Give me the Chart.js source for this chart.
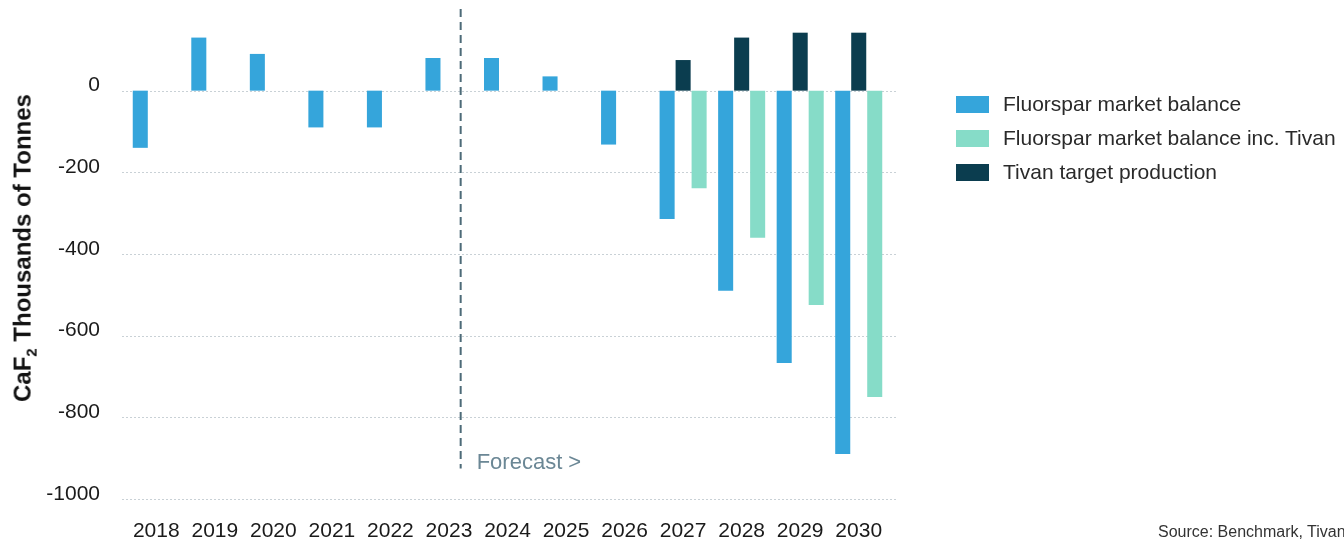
<!DOCTYPE html>
<html>
<head>
<meta charset="utf-8">
<script src="https://cdn.jsdelivr.net/npm/chart.js@4"></script>
<style>
  body { margin: 0; background: #fff; overflow: hidden; font-family: "Liberation Sans", Arial, sans-serif; }
  #wrap { position: relative; width: 1344px; height: 542px; overflow: hidden; }
  #yTitle {
    position: absolute; left: 24px; top: 248px;
    transform: translate(-50%, -50%) rotate(-90deg);
    white-space: nowrap; font-size: 24px; font-weight: bold; color: #111;
  }
  #yTitle sub { font-size: 15px; }
  .leg { position: absolute; left: 956px; height: 34px; display: flex; align-items: center; white-space: nowrap; font-size: 21px; color: #2a2a2a; }
  .leg span.box { display: inline-block; width: 33px; height: 17px; margin-right: 14px; }
  #source { position: absolute; left: 1158px; top: 523px; font-size: 16px; color: #333; white-space: nowrap; }
</style>
</head>
<body>
<div id="wrap">
  <canvas id="chart" width="1344" height="542"></canvas>
  <div id="yTitle">CaF<sub>2</sub> Thousands of Tonnes</div>
  <div id="legend"></div>
  <div id="source">Source: Benchmark, Tivan</div>
</div>
<script>
const years = ["2018", "2019", "2020", "2021", "2022", "2023", "2024", "2025", "2026", "2027", "2028", "2029", "2030"];
const marketBalance = [-140, 130, 90, -90, -90, 80, 80, 35, -132, -314, -490, -667, -890];
const tivanProduction = [null, null, null, null, null, null, null, null, null, 75, 130, 142, 142];
const balanceIncTivan = [null, null, null, null, null, null, null, null, null, -239, -360, -525, -750];
const yTicks = [0, -200, -400, -600, -800, -1000];

const colorBlue = "#35a5db";
const colorGreen = "#86dcc8";
const colorDark = "#0b3d4f";

const forecastIndex = 5.2;    // forecast divider, just after 2023
const forecastLineEnd = -925; // where the dashed line stops

// legend (order differs from draw order)
const legendItems = [
  ["Fluorspar market balance", colorBlue],
  ["Fluorspar market balance inc. Tivan", colorGreen],
  ["Tivan target production", colorDark]
];
const legendEl = document.getElementById("legend");
legendItems.forEach(function (it, i) {
  const d = document.createElement("div");
  d.className = "leg";
  d.style.top = (87 + i * 34) + "px";
  d.innerHTML = '<span class="box" style="background:' + it[1] + '"></span>' + it[0];
  legendEl.appendChild(d);
});

const gridAndForecast = {
  id: "gridAndForecast",
  beforeDatasetsDraw(chart) {
    const ctx = chart.ctx;
    const area = chart.chartArea;
    const y = chart.scales.y;
    const x = chart.scales.x;
    ctx.save();
    ctx.strokeStyle = "#c9d1d6";
    ctx.lineWidth = 1;
    ctx.setLineDash([2, 2]);
    yTicks.forEach(function (v) {
      const py = Math.round(y.getPixelForValue(v)) + 0.5;
      ctx.beginPath();
      ctx.moveTo(area.left - 5, py);
      ctx.lineTo(area.right + 9, py);
      ctx.stroke();
    });
    // forecast divider
    const fx = x.getPixelForValue(forecastIndex);
    ctx.strokeStyle = "#4d6b78";
    ctx.lineWidth = 2;
    ctx.setLineDash([8, 5]);
    ctx.beginPath();
    ctx.moveTo(fx, area.top);
    ctx.lineTo(fx, y.getPixelForValue(forecastLineEnd));
    ctx.stroke();
    ctx.setLineDash([]);
    ctx.fillStyle = "#6b8795";
    ctx.font = "22px 'Liberation Sans', Arial, sans-serif";
    ctx.textBaseline = "middle";
    ctx.fillText("Forecast >", fx + 16, y.getPixelForValue(-912));
    ctx.restore();
  }
};

new Chart(document.getElementById("chart"), {
  type: "bar",
  data: {
    labels: years,
    datasets: [
      { label: "Fluorspar market balance", data: marketBalance, backgroundColor: colorBlue },
      { label: "Tivan target production", data: tivanProduction, backgroundColor: colorDark },
      { label: "Fluorspar market balance inc. Tivan", data: balanceIncTivan, backgroundColor: colorGreen }
    ]
  },
  options: {
    responsive: false,
    animation: false,
    categoryPercentage: 0.82,
    barPercentage: 0.94,
    layout: { padding: { top: 9, right: 456, left: 0, bottom: 0 } },
    plugins: {
      legend: { display: false },
      tooltip: { enabled: false }
    },
    scales: {
      x: {
        grid: { display: false },
        border: { display: false },
        ticks: {
          color: "#1a1a1a",
          font: { family: "'Liberation Sans', Arial, sans-serif", size: 21 },
          padding: 12,
          maxRotation: 0,
          autoSkip: false
        },
        afterFit(scale) {
          scale.height = 43;
          scale.paddingLeft = 0;
          scale.paddingRight = 0;
        }
      },
      y: {
        min: -1000,
        max: 200,
        grid: { display: false },
        border: { display: false },
        afterBuildTicks(scale) {
          scale.ticks = yTicks.map(function (v) { return { value: v }; });
        },
        ticks: {
          color: "#1a1a1a",
          font: { family: "'Liberation Sans', Arial, sans-serif", size: 21 },
          padding: 19,
          labelOffset: -5,
          callback: function (v) { return String(v); }
        },
        afterFit(scale) {
          scale.width = 127;
          scale.paddingTop = 0;
          scale.paddingBottom = 0;
        }
      }
    }
  },
  plugins: [gridAndForecast]
});
</script>
</body>
</html>
